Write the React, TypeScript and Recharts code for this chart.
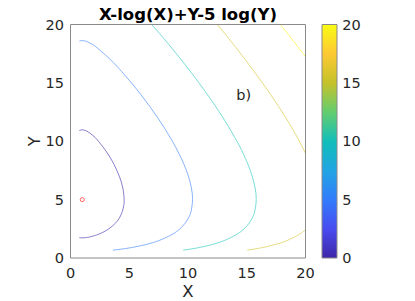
import { ComposedChart, Line, Scatter, XAxis, YAxis, BarChart, Bar } from "recharts";

// contour levels of X-log(X)+Y-5log(Y), points as [x, y]
const LEVEL_0: [number, number][] = [
  [0.75, 1.744], [1, 1.724], [1.3, 1.744], [1.62, 1.8], [2.3, 2], [2.853, 2.25], [3.265, 2.5], [3.84, 3],
  [4.2, 3.5], [4.415, 4], [4.531, 4.5], [4.565, 5], [4.453, 6], [4.155, 7], [3.71, 8],
  [3.126, 9], [2.38, 10], [1.9, 10.5], [1.5, 10.8], [1.3, 10.91], [1, 10.98], [0.75, 10.91],
];
const LEVEL_5: [number, number][] = [
  [3.61, 0.67], [4.613, 0.8], [5.75, 1], [6.78, 1.25], [7.55, 1.5], [8.62, 2], [9.313, 2.5], [9.772, 3],
  [10.074, 3.5], [10.26, 4], [10.387, 5], [10.29, 6], [10.035, 7], [9.665, 8], [9.206, 9], [8.673, 10],
  [8.079, 11], [7.43, 12], [6.731, 13], [5.985, 14], [5.186, 15], [4.328, 16], [3.386, 17], [2.272, 18],
  [1.85, 18.3], [1.48, 18.5], [1.3, 18.57], [1, 18.622], [0.75, 18.57],
];
const LEVEL_10: [number, number][] = [
  [9.588, 0.67], [10.429, 0.8], [11.437, 1], [12.382, 1.25], [13.1, 1.5], [14.113, 2], [14.774, 2.5],
  [15.215, 3], [15.505, 3.5], [15.684, 4], [15.807, 5], [15.713, 6], [15.468, 7], [15.112, 8],
  [14.672, 9], [14.164, 10], [12.989, 12], [11.651, 14], [10.184, 16], [8.604, 18], [7.772, 19], [6.912, 20],
];
const LEVEL_15_TOP: [number, number][] = [
  [12.505, 20], [13.311, 19], [14.098, 18], [14.865, 17], [15.611, 16], [16.333, 15],
  [17.03, 14], [17.698, 13], [18.333, 12], [18.931, 11], [19.482, 10], [19.739, 9.5], [20, 8.96],
];
const LEVEL_15_LOW: [number, number][] = [
  [15.038, 0.67], [15.847, 0.8], [16.369, 0.9], [16.825, 1], [17.742, 1.25], [18.442, 1.5], [19.433, 2], [20, 2.425],
];
const LEVEL_20: [number, number][] = [[17.862, 20], [18.648, 19], [19.418, 18], [20, 17.23]];

const MINIMUM = [{ x: 1, y: 5 }];
const NOTE = [{ x: 14.1, y: 13.5, text: "b)" }];

const TICKS = [0, 5, 10, 15, 20];
const CBAR = [{ name: "cbar", value: 20 }];

const CONTOURS = [
  { id: "c0", pts: LEVEL_0, color: "#3e26a8" },
  { id: "c5", pts: LEVEL_5, color: "#3b82fc" },
  { id: "c10", pts: LEVEL_10, color: "#20c4bc" },
  { id: "c15a", pts: LEVEL_15_TOP, color: "#d6c22e" },
  { id: "c15b", pts: LEVEL_15_LOW, color: "#d6c22e" },
  { id: "c20", pts: LEVEL_20, color: "#f9fb14" },
];

const PARULA = [
  [0, "#3e26a8"], [0.125, "#484cf0"], [0.25, "#327cfc"], [0.375, "#20a5e3"],
  [0.5, "#12beb9"], [0.625, "#64cd6f"], [0.75, "#c5c22a"], [0.875, "#fdc933"], [1, "#f9fb14"],
] as const;

const FONT = "DejaVu Sans, sans-serif";
const AXIS = "#8a8a8a";
const TEXT = "#262626";
const tickStyle = { fill: TEXT, fontSize: 14.5, fontFamily: FONT };

const XLabel = ({ viewBox }: any) => (
  <text x={viewBox.x + viewBox.width / 2} y={297.3} textAnchor="middle" fill={TEXT} fontSize={16.5} fontFamily={FONT}>
    X
  </text>
);

const YLabel = ({ viewBox }: any) => {
  const cy = viewBox.y + viewBox.height / 2;
  return (
    <text x={40} y={cy} transform={`rotate(-90, 40, ${cy})`} textAnchor="middle" fill={TEXT} fontSize={16.5} fontFamily={FONT}>
      Y
    </text>
  );
};

const Title = ({ viewBox }: any) => (
  <text x={viewBox.x + viewBox.width / 2} y={20.3} textAnchor="middle" fill="#000" fontSize={16.5} fontWeight="bold" fontFamily={FONT}>
    X-log(X)+Y-5 log(Y)
  </text>
);

export default function App() {
  return (
    <div style={{ position: "absolute", left: 0, top: 0, width: 415, height: 301, background: "#fff" }}>
      <div style={{ position: "absolute", left: 0, top: 0 }}>
        <ComposedChart width={415} height={301} margin={{ top: 24.5, right: 109.5, bottom: 13, left: 30.5 }}>
          <XAxis
            dataKey="x"
            type="number"
            domain={[0, 20]}
            ticks={TICKS}
            interval={0}
            height={30}
            tickLine={false}
            tickSize={0}
            tickMargin={9.5}
            axisLine={{ stroke: AXIS }}
            tick={tickStyle}
            label={<XLabel />}
          />
          <XAxis xAxisId="bin" orientation="bottom" mirror type="number" domain={[0, 20]} ticks={TICKS} interval={0}
            axisLine={false} tick={false} tickSize={3} tickLine={{ stroke: AXIS }} />
          <XAxis xAxisId="top" orientation="top" mirror type="number" domain={[0, 20]} ticks={TICKS} interval={0}
            axisLine={{ stroke: AXIS }} tick={false} tickSize={3} tickLine={{ stroke: AXIS }} label={<Title />} />
          <YAxis
            type="number"
            domain={[0, 20]}
            ticks={TICKS}
            interval={0}
            width={40}
            tickLine={false}
            tickSize={0}
            tickMargin={6.5}
            axisLine={{ stroke: AXIS }}
            tick={tickStyle}
            label={<YLabel />}
          />
          <YAxis yAxisId="lin" orientation="left" mirror type="number" domain={[0, 20]} ticks={TICKS} interval={0}
            axisLine={false} tick={false} tickSize={3} tickLine={{ stroke: AXIS }} />
          <YAxis yAxisId="right" orientation="right" mirror type="number" domain={[0, 20]} ticks={TICKS} interval={0}
            axisLine={{ stroke: AXIS }} tick={false} tickSize={3} tickLine={{ stroke: AXIS }} />

          {CONTOURS.map((c) => (
            <Line
              key={c.id}
              data={c.pts.map(([x, y]) => ({ x, y }))}
              dataKey="y"
              type="natural"
              stroke={c.color}
              strokeWidth={0.6}
              dot={false}
              activeDot={false}
              isAnimationActive={false}
            />
          ))}
          <Scatter
            data={MINIMUM}
            dataKey="y"
            isAnimationActive={false}
            shape={(p: any) => <circle cx={p.cx} cy={p.cy} r={2} fill="none" stroke="#ff0000" strokeWidth={0.6} />}
          />
          <Scatter
            data={NOTE}
            dataKey="y"
            isAnimationActive={false}
            shape={(p: any) => (
              <text x={p.cx} y={p.cy} fill={TEXT} fontSize={14.5} fontFamily={FONT}>
                {p.payload.text}
              </text>
            )}
          />
        </ComposedChart>
      </div>

      <div style={{ position: "absolute", left: 0, top: 0 }}>
        <BarChart width={415} height={301} data={CBAR} barCategoryGap={0} margin={{ top: 24.5, right: 38, bottom: 43, left: 322 }}>
          <defs>
            <linearGradient id="parula" x1="0" y1="1" x2="0" y2="0">
              {PARULA.map(([o, c]) => (
                <stop key={o} offset={o} stopColor={c} />
              ))}
            </linearGradient>
          </defs>
          <XAxis dataKey="name" hide />
          <YAxis
            yAxisId="cb"
            orientation="right"
            type="number"
            domain={[0, 20]}
            ticks={TICKS}
            interval={0}
            width={40}
            tickLine={false}
            tickSize={0}
            tickMargin={5.3}
            axisLine={false}
            tick={tickStyle}
          />
          <YAxis yAxisId="cbt" orientation="right" mirror type="number" domain={[0, 20]} ticks={TICKS} interval={0}
            axisLine={false} tick={false} tickSize={3} tickLine={{ stroke: TEXT }} />
          <Bar yAxisId="cb" dataKey="value" fill="url(#parula)" stroke={AXIS} strokeWidth={1} isAnimationActive={false} />
        </BarChart>
      </div>
    </div>
  );
}
